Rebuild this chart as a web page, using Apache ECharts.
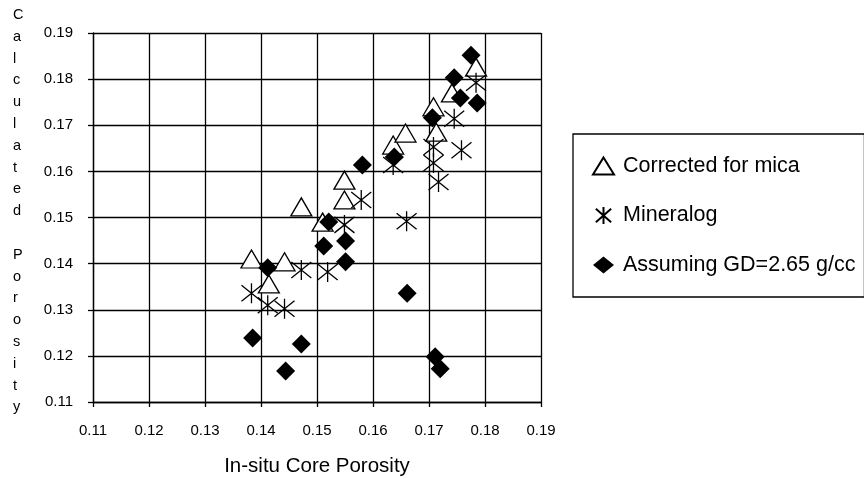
<!DOCTYPE html>
<html>
<head>
<meta charset="utf-8">
<script src="https://cdn.jsdelivr.net/npm/echarts@6/dist/echarts.min.js"></script>
<style>
html,body{margin:0;padding:0;background:#fff;}
#chart{width:864px;height:479px;}
</style>
</head>
<body>
<div id="chart"></div>
<script>
// Axis ticks
var axisMin = 0.11, axisMax = 0.19, axisStep = 0.01;
var xAxisTitle = 'In-situ Core Porosity';
var yAxisTitle = 'Calculated Porosity';
var seriesNames = ['Corrected for mica', 'Mineralog', 'Assuming GD=2.65 g/cc'];

// Corrected for mica (open triangles): [in-situ, calculated]
var micaData = [
  [0.1383, 0.1410], [0.1414, 0.1356], [0.1442, 0.1404], [0.1472, 0.1523],
  [0.1510, 0.1490], [0.1549, 0.1581], [0.1549, 0.1538], [0.1636, 0.1657],
  [0.1658, 0.1683], [0.1708, 0.1740], [0.1713, 0.1685], [0.1741, 0.1770],
  [0.1784, 0.1826]
];
// Mineralog (asterisks)
var mineralogData = [
  [0.1383, 0.1336], [0.1412, 0.1310], [0.1442, 0.1302], [0.1472, 0.1386],
  [0.1519, 0.1382], [0.1549, 0.1484], [0.1579, 0.1538], [0.1636, 0.1614],
  [0.1660, 0.1492], [0.1708, 0.1653], [0.1708, 0.1618], [0.1717, 0.1577],
  [0.1745, 0.1714], [0.1758, 0.1646], [0.1784, 0.1792]
];
// Assuming GD=2.65 g/cc (filled diamonds)
var gdData = [
  [0.1385, 0.1239], [0.1472, 0.1226], [0.1444, 0.1167], [0.1412, 0.1391],
  [0.1521, 0.1490], [0.1512, 0.1438], [0.1551, 0.1449], [0.1551, 0.1404],
  [0.1581, 0.1614], [0.1638, 0.1631], [0.1661, 0.1336], [0.1706, 0.1716],
  [0.1711, 0.1198], [0.1720, 0.1172], [0.1745, 0.1803], [0.1756, 0.1759],
  [0.1775, 0.1852], [0.1786, 0.1748]
];

var FONT = '"Liberation Sans", Arial, sans-serif';
var chart = echarts.init(document.getElementById('chart'), null, {renderer: 'canvas'});

function axisCommon() {
  return {
    type: 'value',
    min: axisMin,
    max: axisMax,
    interval: axisStep,
    axisLine: {show: true, lineStyle: {color: '#000', width: 1.3}},
    axisTick: {show: true, length: 5, lineStyle: {color: '#000', width: 1.3}},
    splitLine: {show: true, lineStyle: {color: '#000', width: 1.3}},
    axisLabel: {
      color: '#000', fontSize: 15, fontFamily: FONT,
      formatter: function (v) { return v.toFixed(2); }
    }
  };
}

var xAxis = axisCommon();
xAxis.axisLabel.margin = 21;
xAxis.name = xAxisTitle;
xAxis.nameLocation = 'middle';
xAxis.nameGap = 54;
xAxis.nameTextStyle = {color: '#000', fontSize: 20.5, fontFamily: FONT};

var yAxis = axisCommon();
yAxis.axisLabel.margin = 20;

var asteriskPath = 'path://M10,0L10,20M1,2L19,18M1,18L19,2';

chart.setOption({
  animation: false,
  backgroundColor: '#fff',
  grid: {left: 93, right: 323, top: 33, bottom: 77, containLabel: false, outerBoundsMode: 'none'},
  xAxis: xAxis,
  yAxis: yAxis,
  legend: {
    orient: 'vertical',
    left: 573,
    top: 134,
    borderColor: '#000',
    borderWidth: 1.3,
    padding: [21, 9, 21, 19],
    itemWidth: 21,
    itemHeight: 17,
    itemGap: 27.5,
    textStyle: {color: '#000', fontSize: 21.5, fontFamily: FONT, padding: [0, 0, 0, 4]},
    data: seriesNames
  },
  graphic: [{
    type: 'text',
    left: 13,
    top: 4,
    style: {
      text: yAxisTitle.split('').join('\n'),
      fontSize: 14.5,
      fontFamily: FONT,
      lineHeight: 21.8,
      fill: '#000',
      align: 'center'
    }
  }],
  series: [
    {
      name: seriesNames[0],
      type: 'scatter',
      symbol: 'triangle',
      symbolSize: [21, 18],
      itemStyle: {color: '#fff', borderColor: '#000', borderWidth: 1.3, opacity: 1},
      data: micaData,
      z: 2
    },
    {
      name: seriesNames[1],
      type: 'scatter',
      symbol: asteriskPath,
      symbolSize: [20, 20],
      itemStyle: {color: 'rgba(0,0,0,0)', borderColor: '#000', borderWidth: 1.3, opacity: 1},
      data: mineralogData,
      z: 3
    },
    {
      name: seriesNames[2],
      type: 'scatter',
      symbol: 'diamond',
      symbolSize: [19, 19],
      itemStyle: {color: '#000', opacity: 1},
      data: gdData,
      z: 4
    }
  ]
});
</script>
</body>
</html>
